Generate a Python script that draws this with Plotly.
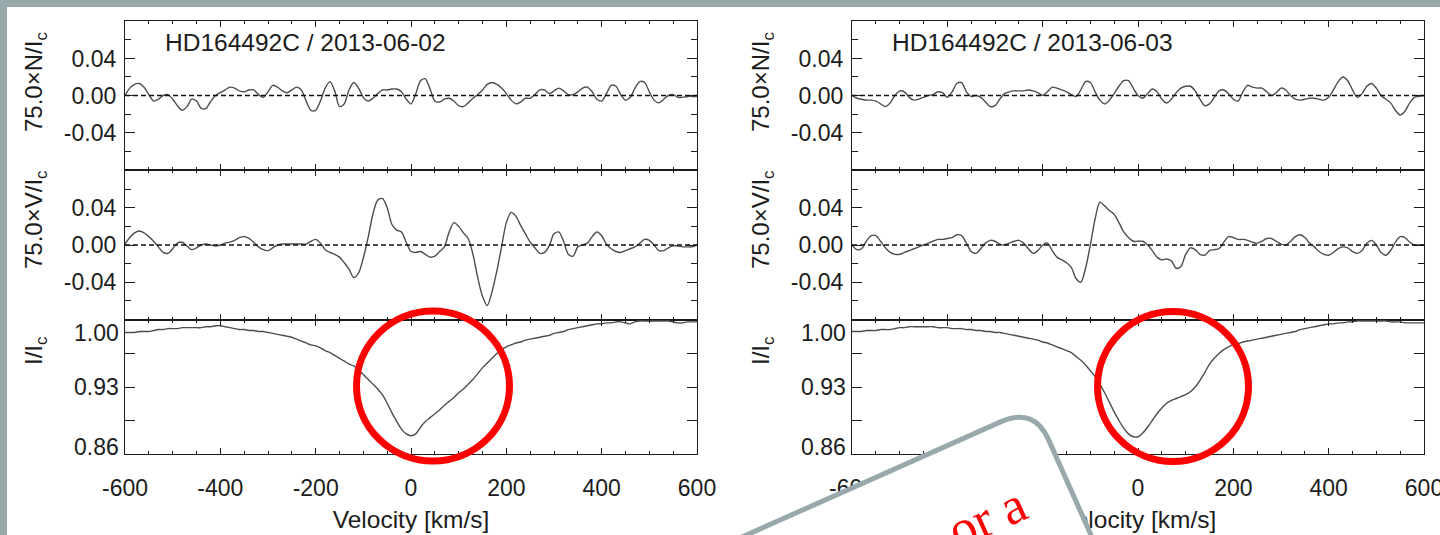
import math
import plotly.graph_objects as go

# ---------------- data ----------------
velocity = [-600, -590, -580, -570, -560, -550, -540, -530, -520, -510,
            -500, -490, -480, -470, -460, -450, -440, -430, -420, -410,
            -400, -390, -380, -370, -360, -350, -340, -330, -320, -310,
            -300, -290, -280, -270, -260, -250, -240, -230, -220, -210,
            -200, -190, -180, -170, -160, -150, -140, -130, -120, -110,
            -100, -90, -80, -70, -60, -50, -40, -30, -20, -10,
            0, 10, 20, 30, 40, 50, 60, 70, 80, 90,
            100, 110, 120, 130, 140, 150, 160, 170, 180, 190,
            200, 210, 220, 230, 240, 250, 260, 270, 280, 290,
            300, 310, 320, 330, 340, 350, 360, 370, 380, 390,
            400, 410, 420, 430, 440, 450, 460, 470, 480, 490,
            500, 510, 520, 530, 540, 550, 560, 570, 580, 590, 600]

# 2013-06-02
null_0602 = [0.000, 0.008, 0.012, 0.013, 0.009, 0.001, -0.006, -0.004, 0.000, 0.001,
             -0.004, -0.011, -0.016, -0.012, -0.004, -0.006, -0.014, -0.014, -0.006, 0.000,
             0.003, 0.006, 0.009, 0.008, 0.005, 0.004, 0.006, 0.006, 0.001, -0.002,
             0.004, 0.011, 0.009, 0.005, 0.003, 0.006, 0.009, 0.006, -0.006, -0.016,
             -0.016, -0.006, 0.008, 0.015, 0.005, -0.012, -0.009, 0.006, 0.014, 0.008,
             -0.002, -0.006, -0.003, 0.002, 0.006, 0.006, 0.007, 0.007, 0.004, -0.004,
             -0.009, 0.002, 0.016, 0.018, 0.007, -0.006, -0.007, -0.004, -0.003, -0.006,
             -0.011, -0.012, -0.008, -0.003, 0.001, 0.006, 0.012, 0.014, 0.012, 0.008,
             0.002, -0.005, -0.009, -0.007, -0.003, -0.003, 0.001, 0.006, 0.006, 0.002,
             0.005, 0.008, 0.005, 0.001, 0.001, 0.004, 0.008, 0.009, 0.004, -0.004,
             -0.006, 0.002, 0.011, 0.010, 0.001, -0.005, -0.002, 0.008, 0.015, 0.014,
             0.004, -0.005, -0.008, -0.004, 0.000, 0.001, -0.002, -0.002, -0.001, -0.001, -0.001]

stokesv_0602 = [0.001, 0.008, 0.013, 0.015, 0.013, 0.009, 0.004, -0.002, -0.008, -0.009,
                -0.004, 0.002, 0.003, -0.001, -0.005, -0.003, 0.000, 0.001, 0.000, -0.001,
                0.000, 0.002, 0.003, 0.005, 0.008, 0.009, 0.007, 0.003, -0.002, -0.005,
                -0.006, -0.003, 0.000, 0.001, 0.001, 0.001, 0.001, 0.001, 0.001, 0.004,
                0.006, 0.002, -0.005, -0.008, -0.010, -0.013, -0.019, -0.026, -0.035, -0.030,
                -0.014, 0.008, 0.033, 0.048, 0.050, 0.040, 0.022, 0.016, 0.014, 0.003,
                -0.007, -0.008, -0.007, -0.010, -0.013, -0.012, -0.007, -0.002, 0.014, 0.024,
                0.020, 0.013, 0.007, -0.010, -0.035, -0.055, -0.065, -0.050, -0.028, -0.002,
                0.024, 0.035, 0.031, 0.021, 0.012, 0.003, -0.003, -0.009, -0.008, -0.001,
                0.012, 0.014, 0.004, -0.010, -0.012, -0.002, 0.000, 0.002, 0.009, 0.014,
                0.010, 0.001, -0.004, -0.007, -0.008, -0.006, -0.004, -0.002, 0.002, 0.006,
                0.005, 0.000, -0.006, -0.006, -0.003, -0.001, -0.001, -0.002, -0.002, -0.002, 0.000]

intensity_0602 = [0.987, 0.987, 0.987, 0.988, 0.988, 0.988, 0.989, 0.990, 0.990, 0.991,
                  0.991, 0.991, 0.992, 0.992, 0.992, 0.992, 0.992, 0.993, 0.993, 0.994,
                  0.994, 0.993, 0.992, 0.991, 0.990, 0.990, 0.989, 0.989, 0.988, 0.988,
                  0.987, 0.986, 0.985, 0.984, 0.983, 0.982, 0.980, 0.978, 0.976, 0.974,
                  0.973, 0.971, 0.968, 0.966, 0.963, 0.960, 0.957, 0.954, 0.952, 0.948,
                  0.943, 0.938, 0.933, 0.928, 0.922, 0.913, 0.903, 0.894, 0.886, 0.881,
                  0.879, 0.881, 0.888, 0.894, 0.898, 0.902, 0.906, 0.911, 0.915, 0.919,
                  0.924, 0.928, 0.933, 0.938, 0.944, 0.950, 0.955, 0.960, 0.965, 0.969,
                  0.972, 0.974, 0.976, 0.977, 0.979, 0.980, 0.981, 0.982, 0.983, 0.984,
                  0.986, 0.987, 0.988, 0.990, 0.991, 0.992, 0.993, 0.994, 0.995, 0.996,
                  0.996, 0.997, 0.997, 0.998, 0.998, 0.997, 0.996, 0.998, 0.999, 0.999,
                  0.999, 0.999, 0.999, 0.999, 0.999, 0.998, 0.997, 0.997, 0.998, 0.998, 0.998]

# 2013-06-03
null_0603 = [0.000, -0.003, -0.004, -0.005, -0.005, -0.006, -0.009, -0.012, -0.008, 0.000,
             0.005, 0.004, -0.002, -0.005, -0.004, -0.002, 0.000, 0.001, 0.004, 0.003,
             -0.002, 0.004, 0.013, 0.014, 0.004, -0.001, 0.000, -0.002, -0.007, -0.012,
             -0.011, -0.004, 0.002, 0.004, 0.005, 0.005, 0.005, 0.006, 0.005, 0.003,
             0.000, 0.004, 0.009, 0.008, 0.006, 0.004, 0.001, -0.001, 0.006, 0.015,
             0.014, 0.004, -0.005, -0.009, -0.005, 0.002, 0.010, 0.016, 0.016, 0.008,
             0.000, -0.003, 0.002, 0.007, 0.004, -0.004, -0.008, -0.004, 0.003, 0.008,
             0.010, 0.010, 0.005, -0.004, -0.011, -0.009, -0.002, 0.005, 0.006, 0.002,
             -0.004, -0.006, 0.004, 0.011, 0.009, 0.008, 0.008, 0.004, 0.000, 0.003,
             0.008, 0.006, 0.000, -0.004, -0.005, -0.004, -0.003, -0.003, -0.004, -0.005,
             -0.002, 0.006, 0.015, 0.020, 0.016, 0.006, -0.002, 0.002, 0.010, 0.013,
             0.008, 0.000, -0.004, -0.008, -0.016, -0.021, -0.017, -0.008, -0.002, -0.001, 0.000]

stokesv_0603 = [0.000, -0.005, -0.004, 0.004, 0.010, 0.010, 0.004, -0.003, -0.008, -0.010,
                -0.010, -0.008, -0.006, -0.004, -0.002, 0.000, 0.002, 0.004, 0.006, 0.006,
                0.007, 0.008, 0.011, 0.010, 0.002, -0.007, -0.009, -0.004, 0.002, 0.005,
                0.004, 0.001, 0.000, 0.002, 0.004, 0.005, 0.002, -0.004, -0.009, -0.006,
                0.000, 0.002, -0.006, -0.013, -0.016, -0.019, -0.024, -0.036, -0.040, -0.025,
                0.000, 0.028, 0.046, 0.042, 0.037, 0.033, 0.024, 0.014, 0.008, 0.004,
                0.004, 0.004, 0.000, -0.006, -0.013, -0.016, -0.015, -0.017, -0.025, -0.023,
                -0.010, -0.003, -0.005, -0.010, -0.011, -0.006, -0.005, -0.004, 0.003, 0.009,
                0.008, 0.006, 0.006, 0.005, 0.003, 0.002, 0.004, 0.007, 0.007, 0.004,
                0.001, 0.000, 0.004, 0.009, 0.011, 0.008, 0.002, -0.002, -0.007, -0.010,
                -0.011, -0.008, -0.004, -0.002, -0.003, -0.007, -0.009, -0.006, 0.002, 0.005,
                0.000, -0.008, -0.011, -0.006, 0.003, 0.009, 0.008, 0.003, 0.000, 0.000, 0.000]

intensity_0603 = [0.988, 0.988, 0.988, 0.989, 0.989, 0.989, 0.990, 0.990, 0.990, 0.991,
                  0.992, 0.992, 0.993, 0.993, 0.993, 0.993, 0.993, 0.993, 0.992, 0.992,
                  0.992, 0.991, 0.991, 0.991, 0.990, 0.990, 0.989, 0.989, 0.988, 0.988,
                  0.987, 0.987, 0.986, 0.985, 0.984, 0.983, 0.982, 0.981, 0.980, 0.979,
                  0.977, 0.976, 0.974, 0.972, 0.970, 0.968, 0.966, 0.962, 0.958, 0.953,
                  0.947, 0.941, 0.933, 0.924, 0.914, 0.904, 0.895, 0.887, 0.881, 0.878,
                  0.878, 0.882, 0.888, 0.895, 0.902, 0.908, 0.913, 0.916, 0.918, 0.920,
                  0.922, 0.925, 0.930, 0.937, 0.945, 0.954, 0.960, 0.965, 0.969, 0.972,
                  0.974, 0.975, 0.977, 0.978, 0.979, 0.980, 0.981, 0.982, 0.983, 0.984,
                  0.985, 0.986, 0.987, 0.988, 0.990, 0.991, 0.992, 0.993, 0.994, 0.995,
                  0.996, 0.996, 0.997, 0.997, 0.998, 0.998, 0.999, 0.999, 0.999, 0.999,
                  0.999, 0.999, 0.999, 0.998, 0.998, 0.998, 0.997, 0.997, 0.997, 0.997, 0.997]

star_name = "HD164492C"
obs_dates = ["2013-06-02", "2013-06-03"]
panel_titles = ["75.0×N/I<sub>c</sub>", "75.0×V/I<sub>c</sub>", "I/I<sub>c</sub>"]
velocity_title = "Velocity [km/s]"

vel_tickvals = [-600, -400, -200, 0, 200, 400, 600]
vel_ticktext = ["-600", "-400", "-200", "0", "200", "400", "600"]
vel_minor = [-550, -500, -450, -350, -300, -250, -150, -100, -50,
             50, 100, 150, 250, 300, 350, 450, 500, 550]
stokes_tickvals = [-0.04, 0.0, 0.04]
stokes_ticktext = ["-0.04", "0.00", "0.04"]
stokes_minor = [-0.06, -0.02, 0.02, 0.06]
int_tickvals = [0.86, 0.93, 1.00]
int_ticktext = ["0.86", "0.93", "1.00"]
int_minor = [0.895, 0.965]
overlay_text = "or a"

# ---------------- layout geometry (pixels) ----------------
W, H = 1440, 535
FONT = "Liberation Sans, Arial, Helvetica, sans-serif"
INK = "#1c1c1c"
CURVE = "#4d4d4d"
FRAME = "#97a9aa"


def px(x):
    return x / W


def py(y):
    return 1 - y / H


col_x = [(125, 697), (852, 1424)]
row_y = [(21, 170), (170, 320), (320, 454)]
ylab_center = [82, 220, 351]

series = [[null_0602, stokesv_0602, intensity_0602],
          [null_0603, stokesv_0603, intensity_0603]]

fig = go.Figure()
layout = dict(
    width=W, height=H, autosize=False,
    margin=dict(l=0, r=0, t=0, b=0, pad=0, autoexpand=False),
    paper_bgcolor="white", plot_bgcolor="rgba(0,0,0,0)",
    showlegend=False, hovermode=False,
    font=dict(family=FONT, size=23, color=INK),
)
shapes = []
annotations = []

# frame strips of the slide
shapes.append(dict(type="rect", xref="paper", yref="paper", x0=0, x1=1, y0=py(7), y1=1.02,
                   fillcolor=FRAME, line=dict(width=0), layer="below"))
shapes.append(dict(type="rect", xref="paper", yref="paper", x0=-0.01, x1=px(7), y0=-0.02, y1=1.02,
                   fillcolor=FRAME, line=dict(width=0), layer="below"))

for c in range(2):
    xl, xr = col_x[c]
    for r in range(3):
        idx = c * 3 + r + 1
        sfx = "" if idx == 1 else str(idx)
        yt, yb = row_y[r]
        fig.add_trace(go.Scatter(
            x=velocity, y=series[c][r], mode="lines",
            line=dict(color=CURVE, width=1.4, shape="spline", smoothing=0.8),
            xaxis="x" + sfx, yaxis="y" + sfx, hoverinfo="skip"))
        layout["xaxis" + sfx] = dict(
            domain=[px(xl), px(xr)], anchor="y" + sfx, range=[-600, 600],
            tickmode="array", tickvals=vel_tickvals, ticktext=vel_ticktext,
            showticklabels=(r == 2), ticklabelstandoff=13, ticklabeloverflow="allow",
            automargin=False,
            ticks="inside", ticklen=6, tickwidth=1.3, tickcolor=INK,
            minor=dict(tickvals=vel_minor, ticks="inside", ticklen=3, tickwidth=1.2, tickcolor=INK),
            showline=True, linecolor=INK, linewidth=1.2, mirror="allticks",
            showgrid=False, zeroline=False,
            tickfont=dict(family=FONT, size=23, color=INK))
        if r < 2:
            yax = dict(range=[-0.0805, 0.0805], tickvals=stokes_tickvals, ticktext=stokes_ticktext,
                       minor=dict(tickvals=stokes_minor, ticks="inside", ticklen=6, tickwidth=1.2,
                                  tickcolor=INK),
                       showticklabels=True)
            shapes.append(dict(type="line", xref="x" + sfx + " domain", yref="y" + sfx,
                               x0=0, x1=1, y0=0, y1=0, layer="above",
                               line=dict(color="#111111", width=1.4, dash="5px,3px")))
        else:
            yax = dict(range=[0.86, 1.00], tickvals=int_tickvals, ticktext=int_ticktext,
                       minor=dict(tickvals=int_minor, ticks="inside", ticklen=6, tickwidth=1.2,
                                  tickcolor=INK),
                       showticklabels=False)
            shifts = [7, 0, -13]
            for tv, tt, sh in zip(int_tickvals, int_ticktext, shifts):
                annotations.append(dict(text=tt, xref="x" + sfx + " domain", yref="y" + sfx,
                                        x=0, y=tv, xanchor="right", yanchor="middle",
                                        xshift=-4, yshift=sh, showarrow=False,
                                        font=dict(family=FONT, size=23, color=INK)))
        yax.update(domain=[py(yb), py(yt)], anchor="x" + sfx, tickmode="array",
                   ticks="inside", ticklen=10, tickwidth=1.3, tickcolor=INK,
                   ticklabelstandoff=3, automargin=False,
                   showline=True, linecolor=INK, linewidth=1.2, mirror="allticks",
                   showgrid=False, zeroline=False,
                   tickfont=dict(family=FONT, size=23, color=INK))
        layout["yaxis" + sfx] = yax

        annotations.append(dict(text=panel_titles[r], xref="paper", yref="paper",
                                x=px(xl - 90), y=py(ylab_center[r]), textangle=-90,
                                xanchor="center", yanchor="middle", showarrow=False,
                                font=dict(family=FONT, size=24, color=INK)))

    # star / date label
    annotations.append(dict(text=f"{star_name} / {obs_dates[c]}", xref="paper", yref="paper",
                            x=px(xl + 38), y=py(43), xanchor="left", yanchor="middle",
                            showarrow=False, font=dict(family=FONT, size=24.5, color=INK)))

    # x-axis title: tick label of an overlaid axis, so it stays beneath the overlay card
    tid = str(7 + c)
    base = str(c * 3 + 3)
    layout["xaxis" + tid] = dict(
        overlaying="x" + base, anchor="y" + base, side="bottom", range=[-600, 600],
        tickmode="array", tickvals=[0], ticktext=[velocity_title], automargin=False,
        ticks="", showline=False, showgrid=False, zeroline=False,
        ticklabelstandoff=48, tickfont=dict(family=FONT, size=24.5, color=INK))
    # transparent copy of the intensity profile so the overlaid axis owns a subplot
    fig.add_trace(go.Scatter(
        x=velocity, y=series[c][2], mode="lines", line=dict(width=0), opacity=0,
        xaxis="x" + tid, yaxis="y" + base, hoverinfo="skip"))

# red highlight circles
for (cx, cy, rx, ry) in [(433, 386, 76.5, 75), (1173, 386.5, 75.5, 75)]:
    shapes.append(dict(type="circle", xref="paper", yref="paper",
                       x0=px(cx - rx), x1=px(cx + rx), y0=py(cy + ry), y1=py(cy - ry),
                       line=dict(color="#ff0000", width=7), fillcolor="rgba(0,0,0,0)",
                       layer="above"))

# tilted overlay card with a rounded corner
ang = math.radians(24)
ux, uy = math.cos(ang), -math.sin(ang)
vx, vy = math.sin(ang), math.cos(ang)
cxp, cyp = 1034.0, 407.0
rad = 36
pts = {
    "L": (cxp - 700 * ux, cyp - 700 * uy),
    "A": (cxp - rad * ux, cyp - rad * uy),
    "C": (cxp, cyp),
    "B": (cxp + rad * vx, cyp + rad * vy),
    "D": (cxp + 400 * vx, cyp + 400 * vy),
}
pts["E"] = (pts["D"][0] - 700 * ux, pts["D"][1] - 700 * uy)


def pp(name):
    x, y = pts[name]
    return f"{px(x):.5f},{py(y):.5f}"


path = (f"M {pp('L')} L {pp('A')} Q {pp('C')} {pp('B')} "
        f"L {pp('D')} L {pp('E')} Z")
shapes.append(dict(type="path", xref="paper", yref="paper", path=path,
                   fillcolor="white", line=dict(color=FRAME, width=5), layer="above"))

annotations.append(dict(text=overlay_text, xref="paper", yref="paper",
                        x=px(986), y=py(517), xanchor="center", yanchor="middle",
                        textangle=-24, showarrow=False,
                        font=dict(family="Liberation Serif, Times New Roman, serif",
                                  size=52, color="#ff0000")))

layout["shapes"] = shapes
layout["annotations"] = annotations
fig.update_layout(**layout)
fig.write_html("out.html", config={"displayModeBar": False})
